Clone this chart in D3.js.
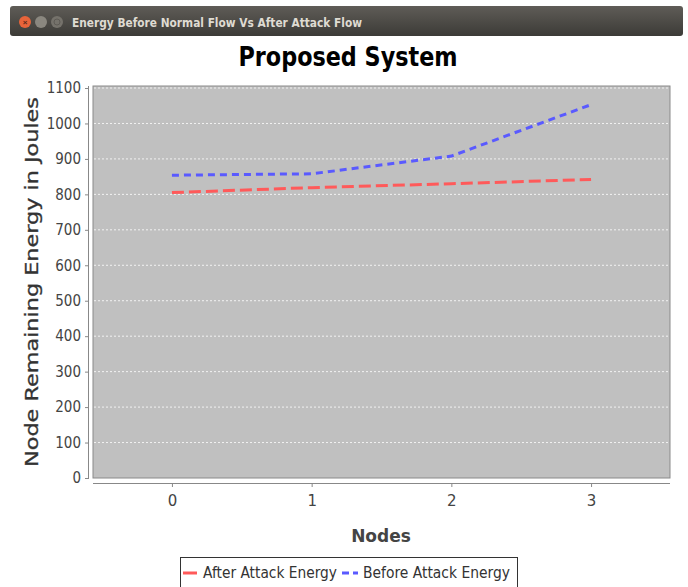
<!DOCTYPE html>
<html>
<head>
<meta charset="utf-8">
<script src="https://cdn.jsdelivr.net/npm/d3@7"></script>
<style>
  body { margin: 0; background: #fff; }
  svg { display: block; }
</style>
</head>
<body>
<svg id="chart"></svg>
<script>
// Data
var nodes = [0, 1, 2, 3];
var afterAttack = [805, 819, 830, 842];
var beforeAttack = [854, 858, 908, 1053];
var yTicks = [0, 100, 200, 300, 400, 500, 600, 700, 800, 900, 1000, 1100];
var seriesNames = ["After Attack Energy", "Before Attack Energy"];

var W = 688, H = 587;
var svg = d3.select("#chart").attr("width", W).attr("height", H);

// Plot area
var plot = { left: 93, right: 670, top: 86, bottom: 478 };

var x = d3.scaleLinear().domain([-0.565, 3.565]).range([plot.left, plot.right]);
var y = d3.scaleLinear().domain([0, 1100]).range([plot.bottom, plot.top + 2]);

var plain = "'DejaVu Sans', sans-serif";

// ---- window title bar ----
var grad = svg.append("defs").append("linearGradient")
    .attr("id", "tb").attr("x1", 0).attr("y1", 0).attr("x2", 0).attr("y2", 1);
grad.append("stop").attr("offset", "0%").attr("stop-color", "#5f5c57");
grad.append("stop").attr("offset", "100%").attr("stop-color", "#3c3b37");

svg.append("rect")
    .attr("x", 10).attr("y", 6).attr("width", 673).attr("height", 30)
    .attr("rx", 3)
    .attr("fill", "url(#tb)");

svg.append("circle").attr("cx", 25).attr("cy", 22).attr("r", 6).attr("fill", "#e8643a");
svg.append("text").attr("x", 25).attr("y", 25).attr("text-anchor", "middle")
    .attr("font-family", "sans-serif").attr("font-size", 8).attr("font-weight", "bold")
    .attr("fill", "#5a2a1a").text("×");
svg.append("circle").attr("cx", 41).attr("cy", 22).attr("r", 6).attr("fill", "#8a877f");
svg.append("circle").attr("cx", 57).attr("cy", 22).attr("r", 6).attr("fill", "#75726b");
svg.append("circle").attr("cx", 57).attr("cy", 22).attr("r", 3).attr("fill", "none")
    .attr("stroke", "#5e5b55").attr("stroke-width", 1);

svg.append("text")
    .attr("x", 72).attr("y", 27)
    .attr("font-family", plain)
    .attr("font-size", "13px")
    .attr("font-weight", "bold")
    .attr("textLength", 290)
    .attr("lengthAdjust", "spacingAndGlyphs")
    .attr("fill", "#dfdbd2")
    .text("Energy Before Normal Flow Vs After Attack Flow");

// ---- chart title ----
svg.append("text")
    .attr("x", 348).attr("y", 66)
    .attr("text-anchor", "middle")
    .attr("font-family", plain)
    .attr("font-size", "27px")
    .attr("font-weight", "bold")
    .attr("textLength", 219)
    .attr("lengthAdjust", "spacingAndGlyphs")
    .attr("fill", "#000")
    .text("Proposed System");

// ---- plot background ----
svg.append("rect")
    .attr("x", plot.left).attr("y", plot.top)
    .attr("width", plot.right - plot.left).attr("height", plot.bottom - plot.top)
    .attr("fill", "#c0c0c0")
    .attr("stroke", "#8a8a8a")
    .attr("stroke-width", 1);

// gridlines
svg.append("g").selectAll("line")
    .data(yTicks.filter(function(d) { return d > 0; }))
    .enter().append("line")
    .attr("x1", plot.left + 1).attr("x2", plot.right - 1)
    .attr("y1", function(d) { return y(d); })
    .attr("y2", function(d) { return y(d); })
    .attr("stroke", "#ffffff")
    .attr("stroke-width", 1)
    .attr("stroke-dasharray", "2,2")
    .attr("opacity", 0.8);

// ---- y axis ----
var yAxis = d3.axisLeft(y).tickValues(yTicks).tickSize(4).tickPadding(3)
    .tickFormat(d3.format("d"));
var gy = svg.append("g")
    .attr("transform", "translate(" + (plot.left - 4) + ",0)")
    .call(yAxis);
gy.select(".domain").attr("stroke", "#888").attr("d", "M-0.5," + plot.top + "V" + plot.bottom);
gy.selectAll(".tick line").attr("stroke", "#888");
gy.selectAll(".tick text")
    .attr("font-family", plain)
    .attr("font-size", "15px")
    .attr("transform", "scale(0.9,1)")
    .attr("x", -8 / 0.9)
    .attr("fill", "#444");

// ---- x axis ----
var xAxis = d3.axisBottom(x).tickValues(nodes).tickSize(4).tickPadding(8)
    .tickFormat(d3.format("d"));
var gx = svg.append("g")
    .attr("transform", "translate(0," + (plot.bottom + 5) + ")")
    .call(xAxis);
gx.select(".domain").attr("stroke", "#888").attr("d", "M" + plot.left + ",0.5H" + plot.right);
gx.selectAll(".tick line").attr("stroke", "#888");
gx.selectAll(".tick text")
    .attr("font-family", plain)
    .attr("font-size", "15px")
    .attr("fill", "#444");

// axis labels
svg.append("text")
    .attr("transform", "translate(38," + ((plot.top + plot.bottom) / 2) + ") rotate(-90)")
    .attr("text-anchor", "middle")
    .attr("font-family", plain)
    .attr("font-size", "17px")
    .attr("textLength", 370)
    .attr("lengthAdjust", "spacingAndGlyphs")
    .attr("fill", "#333")
    .attr("stroke", "#333")
    .attr("stroke-width", 0.3)
    .text("Node Remaining Energy in Joules");

svg.append("text")
    .attr("x", 381).attr("y", 542)
    .attr("text-anchor", "middle")
    .attr("font-family", plain)
    .attr("font-size", "17px")
    .attr("font-weight", "bold")
    .attr("fill", "#444")
    .text("Nodes");

// ---- lines ----
var line = d3.line()
    .x(function(d, i) { return x(nodes[i]); })
    .y(function(d) { return y(d); });

svg.append("path")
    .datum(afterAttack)
    .attr("fill", "none")
    .attr("stroke", "#ff5a5a")
    .attr("stroke-width", 3)
    .attr("stroke-dasharray", "12,5")
    .attr("d", line);

svg.append("path")
    .datum(beforeAttack)
    .attr("fill", "none")
    .attr("stroke", "#5a5aff")
    .attr("stroke-width", 3)
    .attr("stroke-dasharray", "7,5")
    .attr("d", line);

// ---- legend ----
var legend = svg.append("g");
legend.append("rect")
    .attr("x", 180.5).attr("y", 557.5).attr("width", 337).attr("height", 32)
    .attr("fill", "#fff").attr("stroke", "#333").attr("stroke-width", 1);

legend.append("line")
    .attr("x1", 183).attr("x2", 197).attr("y1", 573).attr("y2", 573)
    .attr("stroke", "#ff5a5a").attr("stroke-width", 3);
legend.append("text")
    .attr("x", 203).attr("y", 578)
    .attr("font-family", plain).attr("font-size", "15px").attr("fill", "#333")
    .attr("textLength", 134).attr("lengthAdjust", "spacingAndGlyphs")
    .text(seriesNames[0]);

legend.append("line")
    .attr("x1", 342).attr("x2", 358).attr("y1", 573).attr("y2", 573)
    .attr("stroke", "#5a5aff").attr("stroke-width", 3)
    .attr("stroke-dasharray", "7,4");
legend.append("text")
    .attr("x", 363).attr("y", 578)
    .attr("font-family", plain).attr("font-size", "15px").attr("fill", "#333")
    .attr("textLength", 147).attr("lengthAdjust", "spacingAndGlyphs")
    .text(seriesNames[1]);
</script>
</body>
</html>
